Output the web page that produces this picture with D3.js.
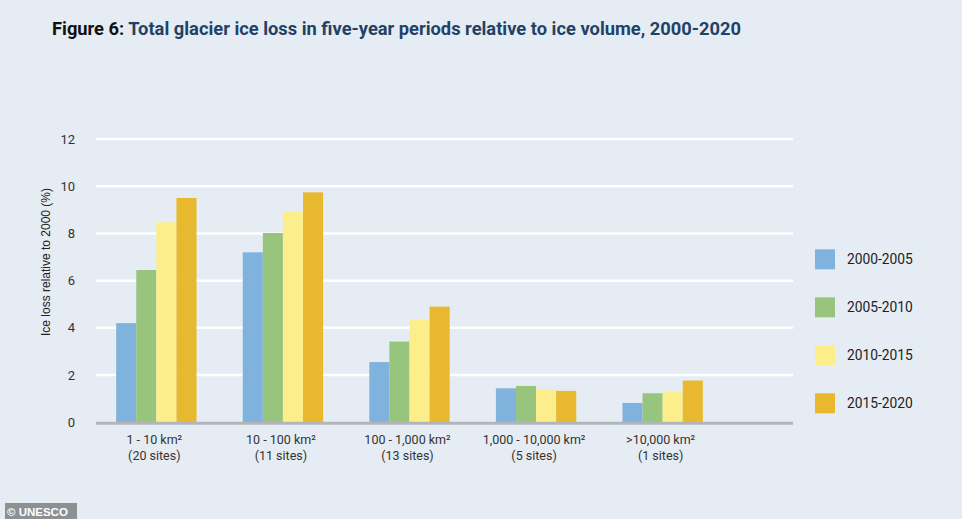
<!DOCTYPE html>
<html><head><meta charset="utf-8">
<script src="https://cdn.jsdelivr.net/npm/d3@7"></script>
<style>
html,body{margin:0;padding:0;background:#e6ecf3;}
svg{display:block;}
</style></head>
<body>
<svg id="chart" width="962" height="519"></svg>
<script>
const categories = ["1 - 10 km²|(20 sites)", "10 - 100 km²|(11 sites)", "100 - 1,000 km²|(13 sites)", "1,000 - 10,000 km²|(5 sites)", ">10,000 km²|(1 sites)"];
const seriesNames = ["2000-2005", "2005-2010", "2010-2015", "2015-2020"];
const s2000_2005 = [4.2, 7.2, 2.55, 1.44, 0.82];
const s2005_2010 = [6.45, 8.02, 3.42, 1.54, 1.23];
const s2010_2015 = [8.47, 8.92, 4.36, 1.41, 1.28];
const s2015_2020 = [9.5, 9.74, 4.9, 1.33, 1.77];
const yTicks = [0, 2, 4, 6, 8, 10, 12];
const colors = ["#7fb2dd", "#98c57e", "#fdee8c", "#e8b92f"];

const series = [s2000_2005, s2005_2010, s2010_2015, s2015_2020];
const svg = d3.select("#chart");

const plotLeft = 96, plotRight = 793, y0 = 422.3, yTop = 139;
const x = d3.scaleBand().domain(categories).range([93, 726]).paddingInner(0.365).paddingOuter(0.183);
const xs = d3.scaleBand().domain(seriesNames).range([0, x.bandwidth()]).padding(0);
const y = d3.scaleLinear().domain([0, 12]).range([y0, yTop]);

// gridlines
svg.append("g").selectAll("line").data(yTicks.filter(d => d > 0)).join("line")
  .attr("x1", plotLeft).attr("x2", plotRight)
  .attr("y1", d => y(d)).attr("y2", d => y(d))
  .attr("stroke", "#ffffff").attr("stroke-width", 2.5);

// y tick labels
svg.append("g").selectAll("text").data(yTicks).join("text")
  .attr("x", 75).attr("y", d => y(d)).attr("dy", "0.35em")
  .attr("text-anchor", "end")
  .attr("font-family", "Roboto, sans-serif").attr("font-size", 13).attr("fill", "#333")
  .text(d => d);

// bars
const g = svg.append("g");
categories.forEach((c, i) => {
  seriesNames.forEach((s, j) => {
    g.append("rect")
      .attr("x", x(c) + xs(s)).attr("width", xs.bandwidth())
      .attr("y", y(series[j][i])).attr("height", y0 - y(series[j][i]))
      .attr("fill", colors[j]);
  });
});

// baseline
svg.append("line").attr("x1", plotLeft).attr("x2", plotRight)
  .attr("y1", y0 + 1).attr("y2", y0 + 1)
  .attr("stroke", "#b2b6bb").attr("stroke-width", 3);

// x labels
const xl = svg.append("g").selectAll("text").data(categories).join("text")
  .attr("text-anchor", "middle")
  .attr("font-family", "Roboto, sans-serif").attr("font-size", 12.5).attr("fill", "#333");
xl.append("tspan").attr("x", d => x(d) + x.bandwidth() / 2 - 2).attr("y", 444).text(d => d.split("|")[0]);
xl.append("tspan").attr("x", d => x(d) + x.bandwidth() / 2 - 2).attr("y", 460).text(d => d.split("|")[1]);

// y axis label
svg.append("text")
  .attr("transform", "translate(50,262) rotate(-90)")
  .attr("text-anchor", "middle")
  .attr("font-family", "'Liberation Sans', Arial, sans-serif").attr("font-size", 12).attr("fill", "#222")
  .text("Ice loss relative to 2000 (%)");

// legend
const lg = svg.append("g").selectAll("g").data(seriesNames).join("g")
  .attr("transform", (d, i) => `translate(815,${249.3 + i * 48})`);
lg.append("rect").attr("width", 20).attr("height", 20).attr("fill", (d, i) => colors[i]);
lg.append("text").attr("x", 32).attr("y", 10).attr("dy", "0.35em")
  .attr("font-family", "Roboto, sans-serif").attr("font-size", 13.8).attr("fill", "#222")
  .text(d => d);

// title
const t = svg.append("text").attr("x", 52).attr("y", 35)
  .attr("font-family", "Roboto, sans-serif").attr("font-weight", "bold").attr("font-size", 19)
  .attr("textLength", 689).attr("lengthAdjust", "spacingAndGlyphs");
t.append("tspan").attr("fill", "#111").text("Figure 6: ");
t.append("tspan").attr("fill", "#1f4266").text("Total glacier ice loss in five-year periods relative to ice volume, 2000-2020");

// credit
svg.append("rect").attr("x", 5).attr("y", 503).attr("width", 72).attr("height", 16).attr("fill", "#8c9196");
svg.append("text").attr("x", 7).attr("y", 515.5)
  .attr("font-family", "'Liberation Sans', Arial, sans-serif").attr("font-weight", "bold").attr("font-size", 11.5).attr("fill", "#fff")
  .text("© UNESCO");
</script>
</body></html>
